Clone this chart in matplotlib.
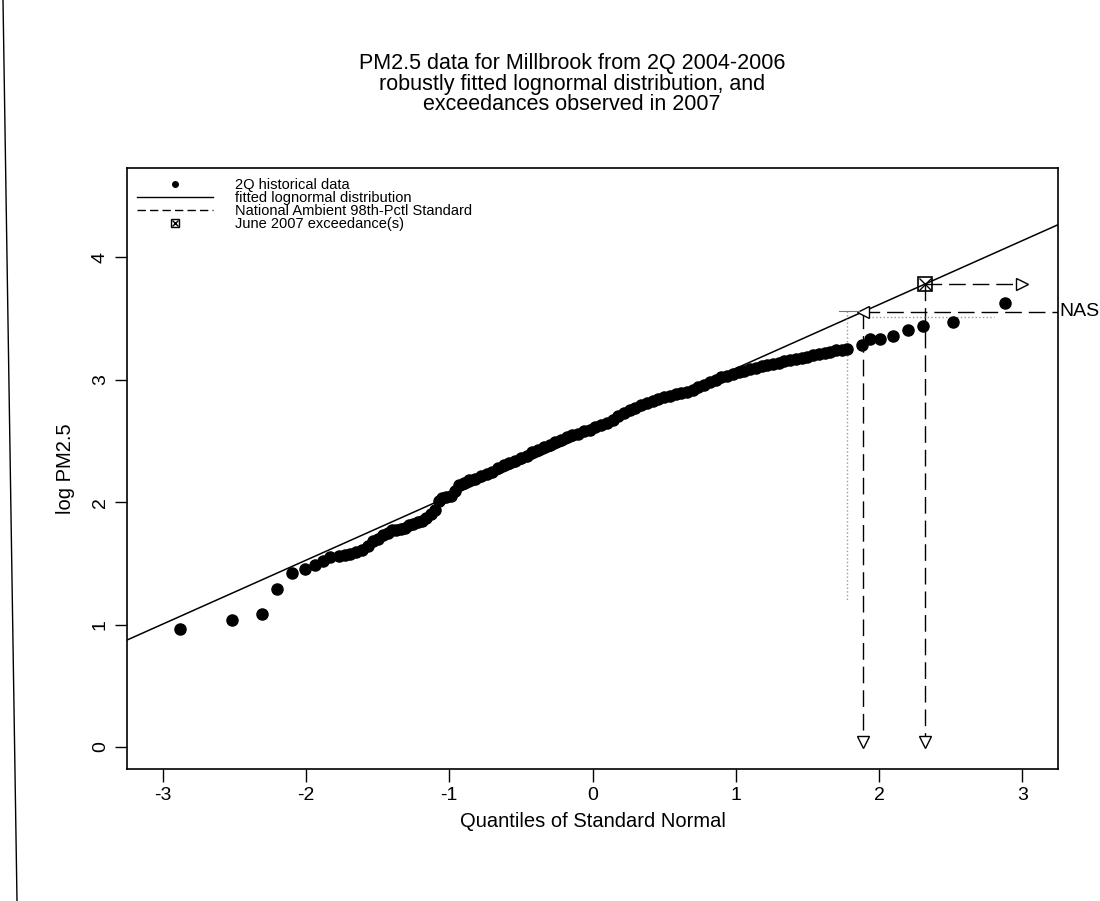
import numpy as np
import matplotlib
matplotlib.use('Agg')
import matplotlib.pyplot as plt
from matplotlib.lines import Line2D
from matplotlib.legend_handler import HandlerTuple

plt.rcParams['font.family'] = ['Liberation Sans', 'DejaVu Sans']
plt.rcParams['axes.unicode_minus'] = False

# Q-Q plot data (normal quantile, log PM2.5)
qq_x = [-2.88, -2.52, -2.31, -2.20, -2.10, -2.01, -1.94, -1.88, -1.83, -1.77,
        -1.73, -1.69, -1.65, -1.61, -1.57, -1.53, -1.50, -1.46, -1.43, -1.40,
        -1.37, -1.34, -1.31, -1.28, -1.25, -1.22, -1.19, -1.16, -1.13, -1.10,
        -1.07, -1.05, -1.02, -0.99, -0.96, -0.93, -0.90,
        -0.86, -0.82, -0.78, -0.74, -0.70, -0.66, -0.62, -0.58, -0.54, -0.50,
        -0.46, -0.42, -0.38, -0.34, -0.30, -0.26, -0.22, -0.18, -0.14, -0.10,
        -0.06, -0.02, 0.02, 0.06, 0.10, 0.14, 0.18, 0.22, 0.26, 0.30,
        0.34, 0.38, 0.42, 0.46, 0.50, 0.54, 0.58, 0.62, 0.66, 0.70,
        0.74, 0.78, 0.82, 0.86, 0.90, 0.94, 0.98, 1.02, 1.06, 1.10,
        1.14, 1.18, 1.22, 1.26, 1.30, 1.34, 1.38, 1.42, 1.46, 1.50,
        1.54, 1.58, 1.62, 1.66, 1.70, 1.74, 1.78,
        1.88, 1.94, 2.01, 2.10, 2.20, 2.31, 2.52, 2.88]
qq_y = [0.96, 1.04, 1.09, 1.29, 1.42, 1.45, 1.49, 1.52, 1.55, 1.56,
        1.57, 1.58, 1.59, 1.61, 1.64, 1.68, 1.70, 1.73, 1.75, 1.77,
        1.77, 1.78, 1.79, 1.81, 1.82, 1.84, 1.85, 1.87, 1.90, 1.94,
        2.01, 2.03, 2.04, 2.05, 2.09, 2.14, 2.16,
        2.18, 2.19, 2.21, 2.23, 2.25, 2.28, 2.30, 2.32, 2.34, 2.36,
        2.38, 2.41, 2.43, 2.45, 2.47, 2.49, 2.51, 2.53, 2.55, 2.56,
        2.58, 2.59, 2.61, 2.63, 2.65, 2.67, 2.70, 2.73, 2.75, 2.77,
        2.79, 2.81, 2.83, 2.84, 2.86, 2.87, 2.88, 2.89, 2.90, 2.92,
        2.94, 2.96, 2.98, 3.00, 3.02, 3.03, 3.05, 3.06, 3.07, 3.09,
        3.10, 3.11, 3.12, 3.13, 3.14, 3.15, 3.16, 3.17, 3.18, 3.19,
        3.20, 3.21, 3.22, 3.23, 3.24, 3.24, 3.25,
        3.28, 3.33, 3.33, 3.36, 3.41, 3.44, 3.47, 3.63]

# robust lognormal fit (log scale intercept / slope)
fit_mu = 2.57
fit_sigma = 0.522

nas_level = np.log(35)      # national ambient 98th pct standard
exceed_level = 3.78         # June 2007 exceedance
exceed_arrow_end = 3.0

nas_z = (nas_level - fit_mu) / fit_sigma
exceed_z = (exceed_level - fit_mu) / fit_sigma

fig = plt.figure(figsize=(11, 9.01), dpi=100)
ax = fig.add_axes([127 / 1100, 132 / 901, 931 / 1100, 601 / 901])
ax.set_xlim(-3.25, 3.25)
ax.set_ylim(-0.18, 4.73)

# data points and fitted line
ax.plot(qq_x, qq_y, 'o', color='black', ms=8, zorder=3)
ax.axline((0, fit_mu), slope=fit_sigma, color='black', lw=1.1)

dash = (0, (12, 5))
# NAS: horizontal from the right edge to the fitted line, then down to 0
ax.plot([nas_z, 3.25], [nas_level, nas_level], color='black', lw=1, ls=dash)
ax.plot([nas_z, nas_z], [nas_level, 0.04], color='black', lw=1, ls=dash)
ax.plot([nas_z], [nas_level], marker='<', ms=9, mfc='white', mec='black', mew=1, ls='none')
ax.plot([nas_z], [0.04], marker='v', ms=9, mfc='white', mec='black', mew=1, ls='none')
ax.annotate('NAS', xy=(1.0, nas_level), xycoords=('axes fraction', 'data'),
            xytext=(1, 0), textcoords='offset points',
            fontsize=14, ha='left', va='center', annotation_clip=False)

# exceedance: square on the fit line with arrows right and down
ax.plot([exceed_z, exceed_arrow_end], [exceed_level, exceed_level], color='black', lw=1, ls=dash)
ax.plot([exceed_z, exceed_z], [exceed_level, 0.04], color='black', lw=1, ls=dash)
ax.plot([exceed_arrow_end], [exceed_level], marker='>', ms=9, mfc='white', mec='black', mew=1, ls='none')
ax.plot([exceed_z], [0.04], marker='v', ms=9, mfc='white', mec='black', mew=1, ls='none')
ax.plot([exceed_z], [exceed_level], marker='s', ms=10, mfc='none', mec='black', mew=1.2, ls='none', zorder=4)
ax.plot([exceed_z], [exceed_level], marker='x', ms=8, color='black', mew=1, ls='none', zorder=4)

# faint guide lines
ax.plot([1.78, 1.78], [3.56, 1.2], color='#9a9a9a', lw=1, ls=':')
ax.plot([1.95, 2.80], [3.51, 3.51], color='#9a9a9a', lw=1, ls=':')
ax.plot([1.72, 1.86], [3.56, 3.56], color='#777777', lw=0.8)

# axes styling like R
ax.set_xticks([-3, -2, -1, 0, 1, 2, 3])
ax.set_yticks([0, 1, 2, 3, 4])
ax.tick_params(direction='out', length=9, width=1, labelsize=14, pad=4)
plt.setp(ax.get_yticklabels(), rotation=90, va='center')
for s in ax.spines.values():
    s.set_linewidth(1.2)

ax.set_xlabel('Quantiles of Standard Normal', fontsize=14.5)
ax.xaxis.set_label_coords(0.5, -0.072)
ax.set_ylabel('log PM2.5', fontsize=14.5)
ax.yaxis.set_label_coords(-0.056, 0.5)

fig.text(572 / 1100, 1 - 53 / 901,
         'PM2.5 data for Millbrook from 2Q 2004-2006\n'
         'robustly fitted lognormal distribution, and\n'
         'exceedances observed in 2007',
         ha='center', va='top', fontsize=15.5, linespacing=0.97)

# legend
h_pts = Line2D([], [], marker='o', color='black', ms=4, ls='none')
h_fit = Line2D([], [], color='black', lw=1)
h_nas = Line2D([], [], color='black', lw=1, ls=(0, (6, 3)))
h_sq = Line2D([], [], marker='s', ms=6, mfc='none', mec='black', ls='none')
h_x = Line2D([], [], marker='x', ms=5, color='black', ls='none')
ax.legend([h_pts, h_fit, h_nas, (h_sq, h_x)],
          ['2Q historical data', 'fitted lognormal distribution',
           'National Ambient 98th-Pctl Standard', 'June 2007 exceedance(s)'],
          handler_map={tuple: HandlerTuple(ndivide=1)},
          loc='upper left', frameon=False, fontsize=10.5, handlelength=5.2,
          handletextpad=1.5, labelspacing=-0.08, borderaxespad=0.2, borderpad=0.5)

# page edge line from the scan
fig.add_artist(Line2D([3 / 1100, 17 / 1100], [1, 0], color='black', lw=1))

fig.savefig('out.png', dpi=100)
